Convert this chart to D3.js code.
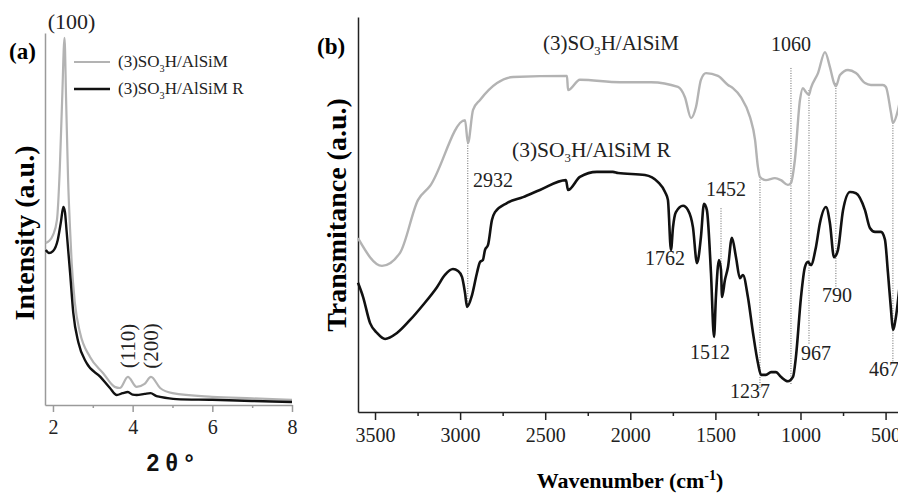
<!DOCTYPE html>
<html>
<head>
<meta charset="utf-8">
<script src="https://cdn.jsdelivr.net/npm/d3@7"></script>
<style>
  body { margin: 0; background: #fff; }
  svg { display: block; font-family: "Liberation Serif", "Times New Roman", serif; }
  .axis-a path, .axis-a line { stroke: #9a9a9a; stroke-width: 1.5; }
  .axis-b path, .axis-b line { stroke: #222; stroke-width: 1.5; }
</style>
</head>
<body>
<svg id="chart" width="898" height="493"></svg>
<script>
// (a) XRD, 2theta vs intensity (a.u.)
const xrdGrayTheta = [1.82, 1.9, 2.0, 2.1, 2.17, 2.23, 2.29, 2.33, 2.38, 2.43, 2.47, 2.55, 2.68, 2.93, 3.26, 3.55, 3.68, 3.88, 4.1, 4.3, 4.46, 4.69, 5.0, 6.0, 7.0, 8.0];
const xrdGrayInt = [43.8, 44.3, 45.9, 50.0, 63.5, 82.4, 99.2, 82.4, 60.8, 47.3, 38.4, 27.6, 19.5, 13.0, 8.6, 4.9, 4.6, 7.6, 4.9, 5.7, 7.6, 4.6, 3.2, 2.2, 1.8, 1.4];
const xrdBlackTheta = [1.82, 1.9, 2.0, 2.12, 2.2, 2.26, 2.3, 2.34, 2.43, 2.51, 2.64, 2.84, 3.19, 3.43, 3.6, 3.75, 3.88, 4.0, 4.1, 4.3, 4.45, 4.6, 4.69, 5.1, 6.0, 7.0, 8.0];
const xrdBlackInt = [41.9, 41.1, 41.6, 44.6, 49.5, 53.5, 52.2, 47.3, 35.7, 24.9, 16.8, 11.4, 7.6, 4.6, 2.7, 3.2, 3.5, 2.8, 2.7, 3.0, 3.2, 2.4, 2.2, 1.6, 1.4, 1.1, 0.8];
const xrdTicks = [2, 4, 6, 8];
const xrdMinor = [3, 5, 7];
const xrdPeaks = ['(100)', '(110)', '(200)'];
const xrdPeakTheta = [2.29, 3.88, 4.46];

// (b) FTIR, wavenumber vs transmittance (a.u.)
const ftirGrayWn = [3600, 3459, 3353, 3247, 3177, 2971, 2954, 2924, 2883, 2783, 2689, 2372, 2366, 2296, 2060, 1878, 1720, 1679, 1643, 1614, 1585, 1555, 1485, 1426, 1397, 1350, 1297, 1267, 1250, 1238, 1203, 1150, 1115, 1074, 1056, 1033, 1003, 986, 968, 950, 939, 897, 856, 827, 803, 792, 768, 721, 674, 621, 586, 516, 498, 468, 457, 427, 400];
const ftirGrayT = [44.0, 37.0, 40.3, 53.7, 57.2, 73.9, 68.1, 76.5, 79.0, 83.3, 84.8, 85.1, 81.5, 84.1, 83.5, 83.5, 82.3, 79.7, 74.4, 77.2, 84.1, 85.8, 85.1, 82.8, 82.0, 79.7, 74.7, 68.9, 62.0, 59.5, 58.7, 59.2, 58.7, 57.5, 58.0, 63.8, 79.0, 82.0, 81.0, 80.3, 82.0, 85.8, 91.1, 87.3, 83.3, 82.5, 85.3, 86.6, 85.8, 83.3, 82.8, 82.8, 82.3, 75.7, 73.2, 76.5, 82.8];
const ftirBlackWn = [3600, 3570, 3529, 3488, 3441, 3371, 3294, 3218, 3136, 3089, 3042, 3012, 2989, 2971, 2959, 2930, 2901, 2883, 2866, 2854, 2836, 2813, 2795, 2725, 2630, 2531, 2378, 2366, 2296, 2196, 2102, 2072, 1914, 1837, 1796, 1779, 1761, 1749, 1732, 1690, 1661, 1632, 1608, 1585, 1567, 1550, 1526, 1508, 1497, 1479, 1467, 1461, 1444, 1426, 1403, 1379, 1356, 1338, 1309, 1279, 1250, 1232, 1203, 1173, 1144, 1115, 1074, 1044, 1027, 997, 974, 956, 939, 909, 886, 850, 827, 803, 780, 750, 709, 674, 621, 592, 562, 527, 504, 486, 468, 457, 439, 420, 400];
const ftirBlackT = [32.7, 29.1, 22.5, 20.0, 18.5, 20.0, 23.3, 27.1, 31.6, 34.7, 36.2, 35.7, 34.2, 30.1, 26.6, 29.6, 35.2, 38.0, 38.5, 41.0, 42.3, 48.6, 50.6, 52.9, 54.4, 56.2, 58.7, 56.2, 59.5, 60.8, 60.8, 60.5, 60.0, 58.2, 55.7, 53.7, 41.0, 46.8, 50.6, 52.2, 51.1, 46.8, 37.7, 44.3, 52.7, 51.1, 35.2, 19.0, 29.1, 38.5, 35.9, 29.1, 33.4, 36.7, 44.1, 39.2, 33.9, 34.7, 29.1, 20.0, 12.4, 9.4, 9.4, 10.1, 10.1, 8.9, 7.8, 8.9, 13.9, 29.1, 36.7, 38.0, 37.2, 41.8, 47.8, 51.9, 47.8, 39.2, 41.0, 51.1, 55.7, 55.4, 51.1, 46.6, 45.6, 45.6, 43.7, 35.2, 25.8, 20.8, 24.1, 30.9, 38.5];
const ftirTicks = [3500, 3000, 2500, 2000, 1500, 1000, 500];
const ftirMinor = [3250, 2750, 2250, 1750, 1250, 750];
// dotted guide lines: wavenumber, upper and lower transmittance
const guideWn = [2955, 1467, 1238, 1056, 950, 792, 457];
const guideTop = [68.1, 51.6, 59.5, 87.1, 81.5, 83.3, 73.2];
const guideBottom = [27.1, 35.9, 5.6, 6.8, 17.0, 31.6, 12.7];
// band labels and where they sit (wavenumber, transmittance)
const bandLabels = ['2932', '1762', '1452', '1512', '1237', '1060', '967', '790', '467'];
const bandWn = [2924, 1796, 1438, 1532, 1297, 1056, 997, 786, 510];
const bandT = [57.0, 37.2, 54.7, 13.4, 3.5, 91.4, 13.2, 27.8, 9.1];
const bandAnchor = ['start', 'middle', 'middle', 'middle', 'middle', 'middle', 'start', 'middle', 'middle'];

const GRAY = '#b3b3b3';
const BLACK = '#111';
const SERIF = '"Liberation Serif", "Times New Roman", serif';

const svg = d3.select('#chart');

function addFormula(sel, suffix) {
  sel.append('tspan').text('(3)SO');
  sel.append('tspan').attr('dy', 5).attr('font-size', '0.6em').text('3');
  sel.append('tspan').attr('dy', -5).text('H/AlSiM' + suffix);
}

function tickText(g) {
  g.attr('font-family', SERIF).attr('font-size', 20);
  g.selectAll('text').attr('fill', '#222').attr('dy', '0.75em');
}

// ---------- panel (a) ----------
const xa = d3.scaleLinear().domain([1.8, 8]).range([45, 292]);
const ya = d3.scaleLinear().domain([0, 100]).range([405, 35]);
const ga = svg.append('g');

ga.append('g').attr('class', 'axis-a').attr('transform', 'translate(0,405)')
  .call(d3.axisBottom(xa).tickValues(xrdTicks).tickFormat(d3.format('d'))
    .tickSize(7).tickSizeOuter(0).tickPadding(7))
  .call(tickText);
ga.append('g').attr('class', 'axis-a').attr('transform', 'translate(0,405)')
  .call(d3.axisBottom(xa).tickValues(xrdMinor).tickSize(3).tickSizeOuter(0).tickFormat(''))
  .call((g) => g.select('.domain').remove());
ga.append('g').attr('class', 'axis-a').attr('transform', 'translate(45,0)')
  .call(d3.axisLeft(d3.scaleLinear().domain([0, 1]).range([405, 33])).tickValues([]).tickSizeOuter(0));

const lineA = d3.line().x((d) => xa(d[0])).y((d) => ya(d[1])).curve(d3.curveMonotoneX);
ga.append('path').datum(d3.zip(xrdGrayTheta, xrdGrayInt))
  .attr('d', lineA).attr('fill', 'none').attr('stroke', GRAY).attr('stroke-width', 2.2);
ga.append('path').datum(d3.zip(xrdBlackTheta, xrdBlackInt))
  .attr('d', lineA).attr('fill', 'none').attr('stroke', BLACK).attr('stroke-width', 2.4);

// peak indices
ga.append('text').attr('x', xa(xrdPeakTheta[0]) + 7).attr('y', 29)
  .attr('text-anchor', 'middle').attr('font-size', 22).attr('fill', '#222').text(xrdPeaks[0]);
xrdPeaks.slice(1).forEach((p, i) => {
  ga.append('text')
    .attr('transform', `translate(${xa(xrdPeakTheta[i + 1]) + 7},346) rotate(-90)`)
    .attr('text-anchor', 'middle').attr('font-size', 21).attr('fill', '#222').text(p);
});

// legend
const legA = [{ c: GRAY, s: '' }, { c: BLACK, s: ' R' }];
legA.forEach((d, i) => {
  const y = 62 + i * 27;
  ga.append('line').attr('x1', 74).attr('x2', 110).attr('y1', y).attr('y2', y)
    .attr('stroke', d.c).attr('stroke-width', i ? 2.6 : 1.8);
  ga.append('text').attr('x', 118).attr('y', y + 5).attr('font-size', 17).attr('fill', '#222')
    .call(addFormula, d.s);
});

ga.append('text').attr('x', 9).attr('y', 59).attr('font-size', 23).attr('font-weight', 'bold').text('(a)');
ga.append('text').attr('transform', 'translate(34,233) rotate(-90)')
  .attr('text-anchor', 'middle').attr('font-size', 28).attr('font-weight', 'bold').text('Intensity (a.u.)');
ga.append('text').attr('x', 170).attr('y', 471).attr('text-anchor', 'middle')
  .attr('font-family', '"Liberation Sans", Arial, sans-serif').attr('font-weight', 'bold')
  .attr('font-size', 23).attr('fill', '#111').text('2 θ °');

// ---------- panel (b) ----------
const xb = d3.scaleLinear().domain([3600, 400]).range([358, 902.6]);
const yb = d3.scaleLinear().domain([0, 100]).range([412, 17]);
const gb = svg.append('g');

gb.append('g').attr('class', 'axis-b').attr('transform', 'translate(0,412)')
  .call(d3.axisBottom(xb).tickValues(ftirTicks).tickFormat(d3.format('d'))
    .tickSize(8).tickSizeOuter(0).tickPadding(7))
  .call(tickText);
gb.append('g').attr('class', 'axis-b').attr('transform', 'translate(0,412)')
  .call(d3.axisBottom(xb).tickValues(ftirMinor).tickSize(4).tickSizeOuter(0).tickFormat(''))
  .call((g) => g.select('.domain').remove());
gb.append('g').attr('class', 'axis-b').attr('transform', 'translate(358,0)')
  .call(d3.axisLeft(yb).tickValues([]).tickSizeOuter(0));

// dotted guides
guideWn.forEach((w, i) => {
  gb.append('line').attr('x1', xb(w)).attr('x2', xb(w))
    .attr('y1', yb(guideTop[i])).attr('y2', yb(guideBottom[i]))
    .attr('stroke', '#666').attr('stroke-width', 1).attr('stroke-dasharray', '1,1.5');
});

const lineB = d3.line().x((d) => xb(d[0])).y((d) => yb(d[1])).curve(d3.curveMonotoneX);
gb.append('path').datum(d3.zip(ftirGrayWn, ftirGrayT))
  .attr('d', lineB).attr('fill', 'none').attr('stroke', GRAY).attr('stroke-width', 2.4);
gb.append('path').datum(d3.zip(ftirBlackWn, ftirBlackT))
  .attr('d', lineB).attr('fill', 'none').attr('stroke', BLACK).attr('stroke-width', 2.6);

bandLabels.forEach((t, i) => {
  gb.append('text').attr('x', xb(bandWn[i])).attr('y', yb(bandT[i]))
    .attr('text-anchor', bandAnchor[i]).attr('font-size', 20).attr('fill', '#222').text(t);
});

gb.append('text').attr('x', 543).attr('y', 50).attr('font-size', 21).attr('fill', '#222').call(addFormula, '');
gb.append('text').attr('x', 512).attr('y', 157).attr('font-size', 21.5).attr('fill', '#222').call(addFormula, ' R');

gb.append('text').attr('x', 317).attr('y', 54).attr('font-size', 23).attr('font-weight', 'bold').text('(b)');
gb.append('text').attr('transform', 'translate(346,215) rotate(-90)')
  .attr('text-anchor', 'middle').attr('font-size', 28).attr('font-weight', 'bold').text('Transmitance (a.u.)');

const wl = gb.append('text').attr('x', 630).attr('y', 488).attr('text-anchor', 'middle')
  .attr('font-size', 22).attr('font-weight', 'bold');
wl.append('tspan').text('Wavenumber (cm');
wl.append('tspan').attr('dy', -8).attr('font-size', 14).text('-1');
wl.append('tspan').attr('dy', 8).text(')');
</script>
</body>
</html>
